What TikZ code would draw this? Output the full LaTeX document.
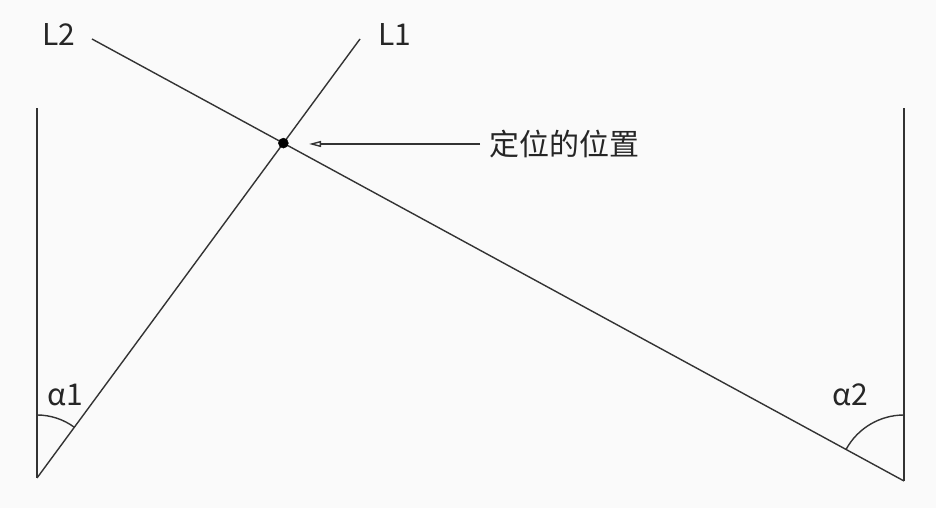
\documentclass[tikz,border=0pt]{standalone}
\usepackage{fontspec}
\setmainfont{Noto Sans CJK SC}
\usetikzlibrary{arrows.meta,angles,positioning}
\definecolor{bgcol}{HTML}{FAFAFA}
\definecolor{linecol}{HTML}{333333}
\tikzset{
    axis line/.style={draw=linecol, line width=1.4pt},
    lbl/.style={text=black!85, font=\fontsize{30}{36}\selectfont, inner sep=0pt},
}
\begin{document}
\begin{tikzpicture}[x=1pt, y=1pt]
        \fill[bgcol] (0,0) rectangle (936,508);
        \useasboundingbox (0,0) rectangle (936,508);
        % feet of the two verticals
        \coordinate (A) at (37,30);
        \coordinate (B) at (904,27);
        \coordinate (Atop) at (37,400);
        \coordinate (Btop) at (904,400);
        \coordinate (L1end) at (360,469);
        \coordinate (L2end) at (92,469);
        \coordinate (P) at (intersection of A--L1end and B--L2end);
        \draw[axis line] (A) -- (Atop);
        \draw[axis line] (B) -- (Btop);
        \draw[axis line] (A) -- (L1end);
        \draw[axis line] (B) -- (L2end);
        \pic[axis line, angle radius=63pt] {angle = L1end--A--Atop};
        \pic[axis line, angle radius=66pt] {angle = Btop--B--L2end};
        \filldraw[black] (P) circle (5pt);
        \node[lbl] (l2) at (59,473) {L2};
        \node[lbl] (l1) at (395,473) {L1};
        \node[lbl] (a1) at (65,113) {α1};
        \node[lbl] (a2) at (850,113) {α2};
        \node[lbl, anchor=west] (pos) at (489,364) {定位的位置};
        \coordinate (tip) at (309,364);
        \draw[linecol, line width=1.4pt, -{Triangle[open, length=12pt, width=6pt]}] (pos.west) ++(-9,0) -- (tip);
    \end{tikzpicture}
\end{document}
